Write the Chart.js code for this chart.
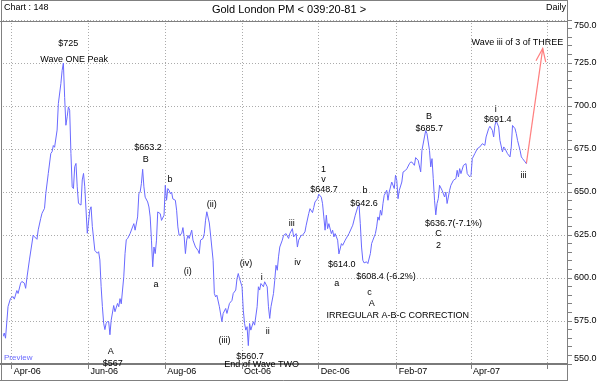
<!DOCTYPE html>
<html><head><meta charset="utf-8">
<script src="https://cdn.jsdelivr.net/npm/chart.js@4.4.1/dist/chart.umd.min.js"></script>
<style>html,body{margin:0;padding:0;background:#fff}#wrap{width:610px;height:381px}</style>
</head><body><div id="wrap"><canvas id="c" width="610" height="381"></canvas></div>
<script>
// x = days since 1 Apr 2006
const days = [
-7,-6,-5,-3,-1,1,2,4,5,7,
8,10,11,12,14,17,18,20,21,23,
24,26,27,29,31,32,33,34,36,37,
39,40,41,42,43,44,45,46,47,48,
49,50,51,52,53,55,56,57,58,60,
62,63,64,66,68,69,70,71,72,73,
74,75,76,77,78,79,81,82,84,85,
86,87,89,90,91,92,94,96,97,98,
100,101,102,103,104,105,106,108,109,110,
111,112,113,114,115,116,118,119,121,122,
123,124,125,126,127,128,130,131,132,133,
135,136,137,138,139,140,141,143,144,146,
148,149,150,152,153,154,155,157,158,160,
161,162,163,165,167,168,170,171,173,175,
176,178,179,180,181,183,184,185,186,187,
188,189,190,192,193,195,196,197,198,200,
201,203,204,205,206,208,209,210,211,212,
213,215,216,218,220,221,223,224,226,227,
228,230,231,233,234,236,237,239,240,241,
243,244,246,247,248,249,250,251,252,254,
255,256,257,259,260,262,263,265,268,271,
273,275,276,277,278,279,280,282,283,285,
286,287,288,289,290,291,292,293,294,295,
296,298,299,300,301,302,304,305,306,307,
308,310,311,313,314,316,317,318,320,321,
323,325,326,328,329,330,332,333,334,335,
336,337,338,339,340,342,344,345,346,348,
349,351,353,354,355,356,357,359,361,362,
364,365,366,368,370,372,374,376,377,379,
380,382,383,384,385,387,388,390,391,392,
394,396,397,398,400,401,402,404,405,406,
408,409];
const prices = [
566,568,565,583.4,588.2,589.2,587.7,592.7,591,597,
598,597,594,600,610.5,625,624,622.5,628,634.7,
637.6,640.5,649,660.8,672.4,673.4,677,676,686,701.4,
713,720.7,725,705,688.8,693.7,699.5,697.5,672.4,653,
652,664.7,666.6,653,643.4,642.4,657,660.8,653,626,
639.5,641.4,630,616,614.4,615.3,610.5,595,583.4,573.7,
570,573.7,574.7,574.6,567,575.5,584,580.4,585.2,583.3,
588,585,600.7,614.2,622.3,622.9,625.8,629.7,631.6,627.8,
635.5,649,650,654.8,663.2,653,647,644.2,641.3,635.5,
622,606.5,618,614.2,622,638.4,637.4,633.5,636.5,653.9,
645.2,652,651,649,650,646,645.2,639.4,629.7,624.8,
625.8,629.3,624,614.2,622,624.8,623,627.8,622,618,
616,614.2,622,623,625.8,633.6,638.5,632,625,610.3,
591,589,590,583.3,574.6,579.4,582.3,579.4,585.2,587,
591,593,599.7,602.6,599.7,594.9,581.3,573.6,569.7,571.7,
560.7,573.6,569.7,574.6,572.6,583.3,594.9,593,596.8,594.9,
597.8,594.9,583.3,576.5,583.3,591,598.7,607.4,604.5,612.3,
618,622,624.8,625.8,623,625.8,628.7,623.9,625.8,618,
622,624.8,624.8,626.8,630.7,637.4,640.3,638,641,644.2,
646.1,648.7,647,643.2,635.5,627.8,636.5,628.7,631.6,625.8,
627.8,623.9,625.8,622,614,620,619,622,625.8,630.7,
636.5,641.3,642.6,631.6,618,610.3,608.8,609.4,608.4,614.2,
620,622,623.9,625.8,629.7,635.5,633.6,639.4,636.5,643.2,
648,651,645.2,650,652.9,655.8,652,659.7,656.8,646.1,
651,655.8,661.6,662.6,663.5,666.4,667.4,667.4,665.5,670,
668.4,661.7,674.2,682,685.7,683.9,674.2,664.6,669.4,657.8,
645.2,636.7,643.3,646.2,653.9,651,647.1,650,643.3,651,
653.9,656.8,657.8,662.6,658.8,663.6,660.7,665.5,666.5,660.7,
658.8,659.7,669.4,672.3,675.2,676.2,678.1,677.1,682,686.8,
688.2,685.8,682,688.7,691.4,687.8,680,673.3,676.2,675.2,
672.3,670.4,676.2,688.7,686.8,683.9,680,674.2,670.4,669.4,
667.5,666.5];
const projDays = [409, 422];
const projPrices = [666.5, 733.4];
const monthDays = [0, 61, 122, 183, 244, 306, 365, 426];
const monthLabels = ['Apr-06','Jun-06','Aug-06','Oct-06','Dec-06','Feb-07','Apr-07',''];
const noteTexts = ['$725','Wave ONE Peak','$663.2','B','b','a','(i)','A','$567','(ii)','(iii)','(iv)','i','ii','$560.7','End of Wave TWO','iii','iv','1','v','$648.7','b','$642.6','$614.0','a','$608.4 (-6.2%)','c','A','IRREGULAR A-B-C CORRECTION','B','$685.7','$636.7(-7.1%)','C','2','i','$691.4','iii','Wave iii of 3 of THREE'];
const noteDays = [44.8,49.5,108.3,106.5,125.8,114.7,139.9,78.7,80.3,159,169,186.2,198.7,203.5,189.4,198.6,222.6,227,247.7,247.7,248.1,280.8,280,262.3,258.3,297.5,284.3,286.2,306.7,331.7,331.9,351,339.1,339.1,384.7,386.2,406.7,401.9];
const notePrices = [736.4,727.1,675.7,668.6,657.5,596,603.8,557.4,550.2,643,563.8,608.2,600.3,569,554.1,549.7,631.4,609,663.2,657.4,651.6,650.8,643.4,608.1,596.6,601,591.8,585.2,578.2,693.7,686.9,631.8,626,618.9,698,692.3,659.3,737];
const chartNo = 'Chart : 148';
const titleText = 'Gold London PM < 039:20-81 >';
const periodText = 'Daily';

const FONT = "'Liberation Sans', Arial, sans-serif";
Chart.defaults.font.family = FONT;
Chart.defaults.font.size = 9;
Chart.defaults.color = '#000';

const framePlugin = {
  id: 'frame',
  beforeDraw(chart) {
    const c = chart.ctx;
    c.save(); c.fillStyle = '#fff'; c.fillRect(0, 0, chart.width, chart.height); c.restore();
  },
  afterDraw(chart) {
    const c = chart.ctx, a = chart.chartArea;
    const xs = chart.scales.x, ys = chart.scales.y;
    c.save();
    // projection arrow head
    const x1 = xs.getPixelForValue(projDays[0]), y1 = ys.getPixelForValue(projPrices[0]);
    const x2 = xs.getPixelForValue(projDays[1]), y2 = ys.getPixelForValue(projPrices[1]);
    const ang = Math.atan2(y1 - y2, x1 - x2);
    c.strokeStyle = '#ff7f7f'; c.lineWidth = 1.2;
    c.beginPath();
    c.moveTo(x2 + 14 * Math.cos(ang + 0.36), y2 + 14 * Math.sin(ang + 0.36));
    c.lineTo(x2, y2);
    c.lineTo(x2 + 14 * Math.cos(ang - 0.36), y2 + 14 * Math.sin(ang - 0.36));
    c.stroke();
    // frame
    c.strokeStyle = '#808080'; c.lineWidth = 1;
    c.beginPath();
    c.moveTo(1.5, 0.5); c.lineTo(a.right + 0.5, 0.5);
    c.moveTo(1.5, 0); c.lineTo(1.5, chart.height);
    c.moveTo(a.right + 0.5, 0); c.lineTo(a.right + 0.5, chart.height);
    c.moveTo(0, 21.5); c.lineTo(a.right + 0.5, 21.5);
    c.moveTo(0, chart.height - 0.5); c.lineTo(a.right + 0.5, chart.height - 0.5);
    c.stroke();
    c.strokeStyle = '#7a7a7a'; c.lineWidth = 2;
    c.beginPath(); c.moveTo(0, a.bottom); c.lineTo(a.right + 1, a.bottom); c.stroke();
    // header texts
    c.fillStyle = '#000'; c.textBaseline = 'middle';
    c.font = "9px 'Liberation Sans Narrow', " + FONT;
    c.textAlign = 'left'; c.fillText(chartNo, 4, 8);
    c.textAlign = 'right'; c.fillText(periodText, a.right - 1, 8);
    c.font = '11px ' + FONT;
    c.textAlign = 'center'; c.fillText(titleText, 289, 10);
    // preview mark
    c.fillStyle = '#6a6aff'; c.font = '8px ' + FONT; c.textAlign = 'left';
    c.fillText('Preview', a.left + 1, a.bottom - 6);
    // annotations
    c.fillStyle = '#000'; c.font = '9px ' + FONT; c.textAlign = 'center';
    noteTexts.forEach((t, i) => {
      c.fillText(t, xs.getPixelForValue(noteDays[i]), ys.getPixelForValue(notePrices[i]));
    });
    c.restore();
  }
};

new Chart(document.getElementById('c'), {
  type: 'line',
  data: {
    datasets: [
      { data: days.map((d, i) => ({ x: d, y: prices[i] })), borderColor: '#6a6aff', borderWidth: 1, pointRadius: 0, tension: 0 },
      { data: projDays.map((d, i) => ({ x: d, y: projPrices[i] })), borderColor: '#ff7f7f', borderWidth: 1.2, pointRadius: 0, tension: 0 }
    ]
  },
  options: {
    responsive: false, animation: false, devicePixelRatio: 1,
    layout: { padding: { left: 3, top: 20, right: 0, bottom: 0 } },
    plugins: { legend: { display: false }, tooltip: { enabled: false } },
    scales: {
      x: {
        type: 'linear', min: -7, max: 441.3,
        afterBuildTicks: s => { s.ticks = monthDays.map(v => ({ value: v })); },
        afterFit: s => { s.height = 17; },
        ticks: { autoSkip: false, maxRotation: 0, align: 'start', labelOffset: 2, padding: -3, color: '#000', font: { size: 9 },
          callback: (v, i) => monthLabels[i] },
        grid: { color: '#ababab', tickColor: '#808080', tickLength: 5, lineWidth: 1 },
        border: { display: false, dash: [1, 2] }
      },
      y: {
        position: 'right', min: 550, max: 750,
        afterBuildTicks: s => { const t = []; for (let v = 550; v <= 750; v += 5) t.push({ value: v }); s.ticks = t; },
        afterFit: s => { s.width = 43; },
        ticks: { autoSkip: false, padding: 2, color: '#000', font: { size: 9 },
          callback: v => v % 25 ? '' : (v === 750 ? ['', v.toFixed(1)] : v === 550 ? [v.toFixed(1), ''] : v.toFixed(1)) },
        grid: { color: ctx => (ctx.tick && ctx.tick.value % 25 === 0) ? '#ababab' : 'rgba(0,0,0,0)', tickColor: '#808080', tickLength: 5 },
        border: { display: false, dash: [1, 2] }
      }
    }
  },
  plugins: [framePlugin]
});
</script></body></html>
